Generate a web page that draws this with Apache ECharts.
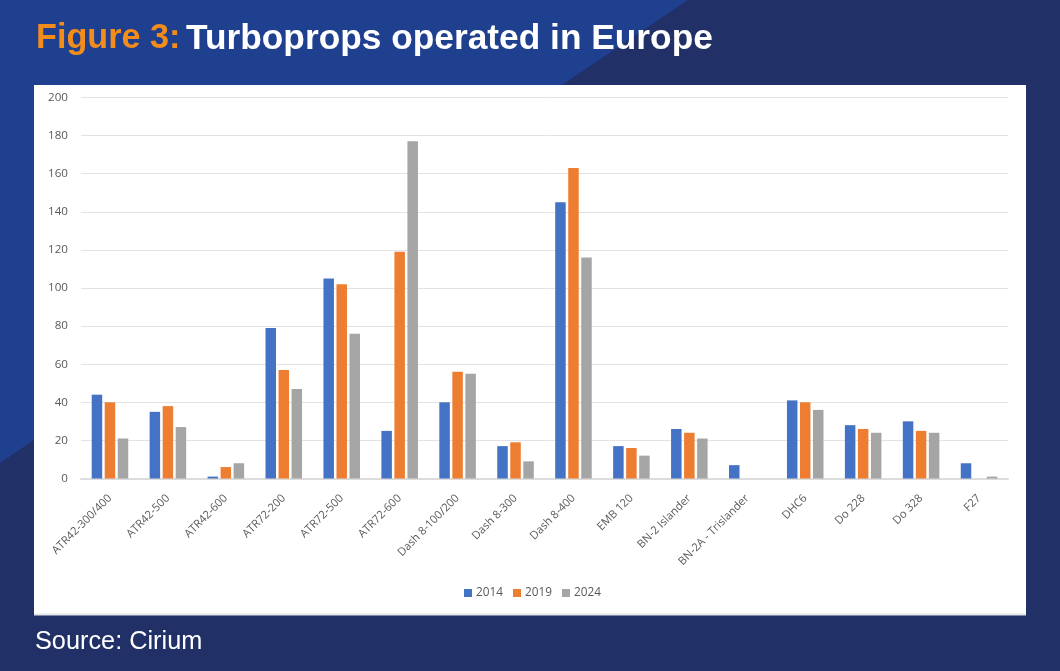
<!DOCTYPE html>
<html><head><meta charset="utf-8">
<style>html,body{margin:0;padding:0;background:#223068}#c{width:1060px;height:671px}</style>
<script src="https://cdn.jsdelivr.net/npm/echarts@6/dist/echarts.min.js"></script>
</head><body><div id="c"></div>
<script>
const categories = ['ATR42-300/400','ATR42-500','ATR42-600','ATR72-200','ATR72-500','ATR72-600','Dash 8-100/200','Dash 8-300','Dash 8-400','EMB 120','BN-2 Islander','BN-2A - Trislander','DHC6','Do 228','Do 328','F27'];
const v2014 = [44,35,1,79,105,25,40,17,145,17,26,7,41,28,30,8];
const v2019 = [40,38,6,57,102,119,56,19,163,16,24,0,40,26,25,0];
const v2024 = [21,27,8,47,76,177,55,9,116,12,21,0,36,24,24,1];
const chart = echarts.init(document.getElementById('c'), null, {renderer:'canvas'});
const bar = (name,data,color)=>({name,type:'bar',data,barWidth:10.5,barGap:'24%',itemStyle:{color},z:3});
chart.setOption({
  animation:false,
  backgroundColor:'#223068',
  graphic:[
    {type:'polygon',z:-10,shape:{points:[[0,0],[688,0],[562,85],[300,260],[0,463]]},style:{fill:'#1f3f8f'},silent:true},
    {type:'rect',z:-5,shape:{x:34,y:85,width:992,height:530},style:{fill:'#ffffff'},silent:true},
    {type:'rect',z:-4,shape:{x:34,y:613.5,width:992,height:2},style:{fill:'#e4e6ea'},silent:true}
  ],
  title:[
    {text:'Figure 3:',left:36,top:22,padding:0,textStyle:{color:'#f28c1b',fontFamily:'Liberation Sans',fontWeight:'bold',fontSize:34.2}},
    {text:'Turboprops operated in Europe',left:186,top:22,padding:0,textStyle:{color:'#ffffff',fontFamily:'Liberation Sans',fontWeight:'bold',fontSize:35.3}},
    {text:'Source: Cirium',left:35,top:630,padding:0,textStyle:{color:'#ffffff',fontFamily:'Liberation Sans',fontWeight:'normal',fontSize:25.3}}
  ],
  legend:{data:['2014','2019','2024'],left:464,top:587,padding:0,itemWidth:8,itemHeight:8,itemGap:10,icon:'rect',
    textStyle:{color:'#595959',fontFamily:'Open Sans',fontSize:11.8,padding:[0,0,0,-1]}},
  grid:{left:81,right:52,top:97.5,height:381,containLabel:false},
  xAxis:{type:'category',data:categories,
    axisLine:{lineStyle:{color:'#dcdcdc',width:2}},axisTick:{show:false},
    axisLabel:{rotate:45,interval:0,margin:18,color:'#595959',fontFamily:'Open Sans',fontSize:11.2}},
  yAxis:{type:'value',min:0,max:200,interval:20,
    axisLine:{show:false},axisTick:{show:false},
    splitLine:{lineStyle:{color:'#e3e3e3',width:1}},
    axisLabel:{margin:13,color:'#595959',fontFamily:'Open Sans',fontSize:11.6}},
  series:[bar('2014',v2014,'#4472c4'),bar('2019',v2019,'#ed7d31'),bar('2024',v2024,'#a5a5a5')]
});
</script></body></html>
